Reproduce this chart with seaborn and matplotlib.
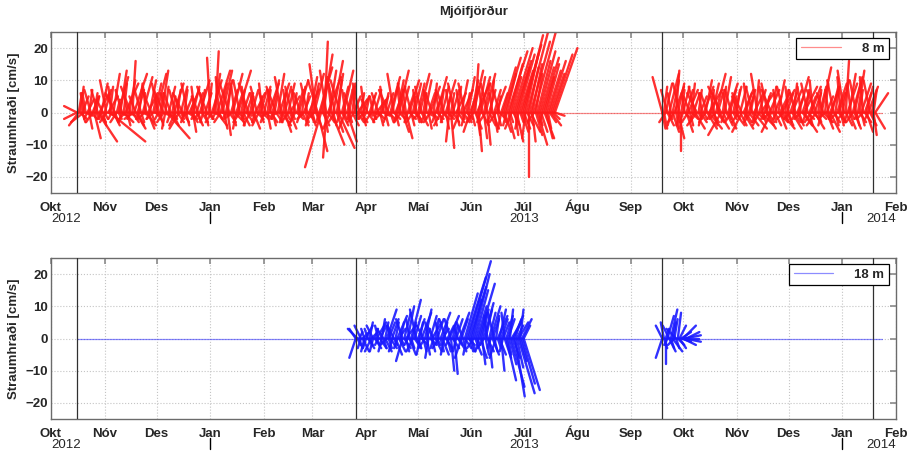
import numpy as np
import pandas as pd
import matplotlib
matplotlib.use("Agg")
import matplotlib.pyplot as plt
import matplotlib.dates as mdates
import matplotlib.transforms as mtransforms
import seaborn as sns

sns.set_theme(style="white")
plt.rcParams["font.family"] = ["Liberation Sans", "DejaVu Sans"]

# ---------------------------------------------------------------------------
# Daily current vectors in cm/s (v = north, u = east).
# "hi" = strongest northward stick of the day, "lo" = strongest southward one.
# ---------------------------------------------------------------------------

# ---- 8 m, deployment 1 (from 2012-10-16) ----
start_8m_a = "2012-10-16"
v_8m_a_hi = (
    [2, 6, 8, 5, 6, 6, 4, 7, 7, 5, 6, 5, 7, 6, 9, 4]
    + [7, 10, 5, 8, 8, 12, 6, 4, 11, 13, 7, 9, 9, 6, 10, 8, 16, 12, 5, 7,
       9, 7, 11, 6, 8, 6, 10, 7, 5, 9]
    + [12, 9, 6, 13, 7, 8, 6, 8, 6, 5, 9, 7, 7, 4, 8, 6, 7, 5, 9, 7,
       4, 8, 8, 6, 5, 10, 7, 6, 6, 8, 9]
    + [17, 10, 12, 19, 13, 11, 9, 13, 8, 10, 9, 9, 7, 12, 8, 6, 13, 10, 7, 6,
       8, 6, 9, 5, 7, 6, 6, 8, 5, 7, 9]
    + [8, 6, 7, 9, 7, 10, 5, 8, 12, 9, 11, 6, 8, 7, 9, 5, 8, 6, 7, 7,
       10, 6, 8, 5, 6, 9, 7, 11]
    + [9, 12, 15, 10, 14, 11, 18, 22, 13, 11, 13, 9, 16, 9, 12, 10, 10, 8, 13, 7,
       8, 9, 6, 8, 5, 7, 4, 9, 6, 5, 8]
    + [5, 4, 6, 5, 5, 7, 4, 6, 3, 5, 8, 6, 6, 7, 11, 9, 12, 8, 10, 13,
       7, 8, 9, 7, 6, 10, 8, 5, 9, 7]
    + [9, 12, 8, 6, 10, 7, 6, 8, 6, 9, 5, 11, 7, 7, 8, 6, 10, 5, 7, 6,
       7, 9, 6, 8, 7, 10, 7, 9, 6, 11, 8]
    + [10, 13, 15, 9, 11, 11, 8, 9, 12, 9, 7, 10, 6, 7, 8, 5, 7, 6, 14, 17,
       12, 19, 15, 11, 20, 16, 14, 18, 13, 21]
    + [24, 18, 27, 14, 22, 15, 26, 12, 16, 19, 14, 17, 11, 15, 13, 16, 12, 18, 20]
)
u_8m_a_hi = (
    [-4, 1, 1, 2, -1, -1, 2, 1, -2, 2, 1, 1, -2, 3, 2, -2]
    + [2, -2, 3, 1, -1, 2, -3, 1, 3, 2, -2, 1, 4, -1, 2, -3, 1, 4, -2, 2,
       1, -2, 3, 0, -1, 3, 2, -3, 1, 2]
    + [3, -2, 1, 2, -3, 1, -2, 2, -2, 1, 3, -2, 1, -1, 2, -3, 1, 2, -2, 3,
       1, 2, -1, 2, -2, 3, 1, -1, 2, -3, 1]
    + [-1, 3, 2, 1, 4, -1, 2, 3, -2, 2, 1, -3, 2, 3, -1, 2, 4, -2, 1, 2,
       -1, 2, -3, 1, 2, -1, 3, -2, 1, 2, -1]
    + [2, -2, 1, 3, -1, 2, 1, -3, 2, 3, -2, 1, 2, -1, 2, 3, -2, 1, -1, 2,
       3, -2, 1, 2, 1, -2, 3, 2]
    + [2, 3, -2, -3, 4, 2, 3, 1, -2, 4, 2, -1, 3, -2, 2, 1, -3, 2, 3, -1,
       2, 2, -2, 1, 2, -1, 3, -2, 1, 2, -1]
    + [1, -2, 2, 1, -1, 2, 3, -2, 1, 2, -1, 1, 2, -3, 3, 2, -2, 3, 2, 3,
       -1, 2, -2, -1, 2, 3, -2, 1, 2, -1]
    + [2, 3, -2, 1, 2, -1, 2, 3, -2, 1, 2, 3, -1, 1, 2, -2, 3, 1, -1, 1,
       2, -2, 3, 1, -1, 2, 3, -2, 1, 2, 3]
    + [2, 3, 1, 4, 2, 3, -1, 2, 3, -2, 2, 1, -1, 2, 3, 1, -2, 2, 4, 5,
       3, 6, 4, 3, 6, 5, 4, 5, 4, 6]
    + [6, 4, 7, 3, 6, 3, 7, 2, 4, 5, 4, 5, 3, 4, 4, 5, 4, 6, 7]
)
v_8m_a_lo = (
    [-2, -4, -2, -3, -3, -1, -2, -5, -2, -3, -8, -2, -9, -3, -2, -4]
    + [-2, -3, -1, -9, -2, -4, -3, -3, -2, -1, -3, -3, -2, -4, -1, -2, -3, -2, -5, -4,
       -2, -3, -1, -2, -4, -5, -2, -3, -2, -1]
    + [-3, -2, -4, -1, -3, -5, -8, -2, -3, -4, -2, -4, -3, -5, -2, -3, -3, -4, -2, -1,
       -3, -6, -2, -4, -3, -2, -3, -3, -4, -2, -1]
    + [-2, -3, -1, -2, -4, -2, -3, -1, -5, -2, -7, -3, -2, -4, -3, -5, -2, -3, -4, -4,
       -2, -3, -1, -4, -2, -5, -3, -2, -4, -3, -2]
    + [-3, -2, -5, -1, -3, -4, -2, -3, -1, -2, -4, -3, -6, -2, -3, -5, -2, -3, -4, -2,
       -1, -3, -4, -2, -3, -2, -4, -3]
    + [-4, -2, -5, -12, -3, -17, -4, -6, -14, -3, -5, -10, -4, -3, -6, -11, -3, -4, -2, -5,
       -9, -3, -2, -4, -3, -2, -3, -1, -3, -4, -2]
    + [-2, -3, -1, -3, -2, -1, -3, -2, -4, -2, -1, -4, -3, -2, -3, -1, -2, -4, -3, -2,
       -3, -6, -2, -8, -3, -2, -4, -3, -2, -3]
    + [-3, -2, -4, -2, -3, -1, -5, -3, -2, -4, -3, -2, -3, -4, -2, -3, -5, -2, -9, -11,
       -3, -2, -4, -3, -5, -2, -3, -4, -2, -3, -6]
    + [-4, -3, -5, -7, -12, -3, -4, -8, -3, -10, -4, -3, -5, -6, -3, -4, -2, -5, -3, -6,
       -4, -8, -3, -5, -4, -7, -9, -5, -3, -6]
    + [-5, -8, -4, -20, -6, -9, -3, -7, -10, -4, -6, -3, -8, -8, -5, -3, -4, -2, -1]
)
u_8m_a_lo = (
    [-4, -3, 2, 1, -4, 2, -1, 1, 2, -2, 2, 1, 6, 2, -1, 1]
    + [1, -2, 2, 11, -1, 2, 1, -2, 1, 2, -1, 3, -2, 1, 2, -1, 2, -3, 3, 2,
       -1, 1, 2, -2, 3, 2, -1, 1, -2, 2]
    + [2, -1, 1, 3, -2, -1, 7, 2, -1, 2, 1, -2, 2, -3, 1, 2, -1, 1, 3, -2,
       2, 1, -1, 2, 1, -2, 2, -1, 1, 2, -1]
    + [1, -2, 2, -1, 3, 1, -2, 2, 1, -1, 1, 2, -2, 1, 3, -1, 2, -2, 1, 2,
       -1, 2, 1, -2, 1, 2, -1, 2, -2, 1, 2]
    + [-1, 2, 1, -2, 2, 1, -1, 2, -2, 1, 3, -1, 2, 1, -2, 2, 1, -1, -2, 2,
       1, -1, 2, -2, 1, 2, -1, 1]
    + [1, -2, 2, 3, -1, -5, 2, 1, -1, 2, -2, 4, 1, -2, 2, 5, -1, 2, 1, -2,
       3, 1, -1, 2, -2, 1, 2, -1, 2, 1, -2]
    + [-1, 2, 1, -2, 1, 2, -1, 2, 1, -2, 2, 1, -1, 2, 1, -2, 2, 1, -1, 2,
       -2, 2, 1, 2, -1, 2, 1, -2, 2, 1]
    + [1, -2, 2, 1, -1, 2, 1, -2, 2, 1, -1, 2, 1, -2, 2, -1, 1, 2, -1, 1,
       2, -1, 1, 2, -2, 1, 2, -1, 2, 1, -2]
    + [1, -2, 2, 1, 1, -1, 2, 1, -2, 1, 2, -1, 2, 1, -2, 1, 2, -1, 1, 2,
       -1, 2, 1, -2, 2, 1, 2, -1, 1, 2]
    + [2, -1, 2, 0, 3, 1, -2, 2, 3, 1, 2, -1, 3, 2, 1, 2, 3, 2, 3]
)

# ---- 8 m, deployment 2 (from 2013-09-19) ----
start_8m_b = "2013-09-19"
v_8m_b_hi = (
    [11, 8, 9, 7, 12, 6, 10, 8, 13, 9, 9, 7]
    + [8, 6, 7, 7, 5, 9, 6, 8, 6, 7, 5, 6, 8, 10, 6, 7, 7, 9, 5, 12,
       7, 6, 8, 8, 11, 6, 9, 7, 7, 5, 8]
    + [7, 5, 8, 6, 7, 6, 9, 7, 5, 8, 6, 10, 12, 7, 6, 8, 6, 5, 9, 7,
       7, 8, 5, 7, 10, 6, 7, 8, 7, 6]
    + [8, 6, 7, 9, 7, 5, 11, 8, 6, 8, 7, 9, 5, 8, 10, 6, 7, 7, 8, 14,
       6, 9, 5, 7, 8, 8, 10, 7, 9, 6, 11]
    + [10, 13, 16, 9, 12, 8, 11, 9, 10, 13, 7, 9, 11, 6, 8, 8, 10, 5, 7, 6]
)
u_8m_b_hi = (
    [-3, 1, 2, -2, 3, -1, 2, 3, 1, 2, -2, 1]
    + [2, -1, 2, 3, -2, 1, 2, -2, -3, 1, 2, -1, 3, 2, -2, 4, 1, 2, -1, 3,
       2, -2, -4, 1, 2, -1, 3, 2, -2, 1, 2]
    + [1, -2, 2, -3, 3, 2, -1, 2, 1, -2, 3, 1, -2, 2, 4, -1, 2, 1, -2, 3,
       -3, 1, 2, -1, 2, 3, 4, -2, 1, 2]
    + [-1, 2, 3, 1, -2, 2, 3, -1, 2, 4, 1, -2, 2, 3, -1, 2, -3, 1, 2, 3,
       -2, 1, 2, -1, 3, 2, -2, 1, 3, 2, -1]
    + [2, -2, 1, 3, 2, -1, 3, 2, -2, 2, 1, 3, -1, 2, 2, 3, -2, 1, 1, 4]
)
v_8m_b_lo = (
    [-5, -5, -3, -4, -2, -4, -6, -3, -5, -8, -4, -12]
    + [-3, -2, -6, -3, -4, -2, -3, -5, -4, -2, -3, -4, -2, -3, -5, -5, -2, -3, -4, -2,
       -3, -5, -7, -2, -3, -4, -2, -5, -3, -2, -4]
    + [-2, -3, -4, -6, -5, -3, -2, -4, -3, -2, -5, -3, -2, -4, -4, -3, -2, -5, -3, -2,
       -6, -3, -4, -2, -3, -5, -5, -2, -3, -4]
    + [-3, -2, -5, -3, -2, -4, -3, -2, -4, -6, -3, -2, -4, -3, -2, -5, -4, -3, -2, -4,
       -3, -2, -5, -3, -6, -2, -3, -4, -2, -3, -4]
    + [-3, -2, -4, -3, -5, -2, -3, -5, -4, -2, -3, -4, -2, -3, -6, -2, -4, -3, -7, -5]
)
u_8m_b_lo = (
    [1, 1, -2, 2, 1, -1, 2, -2, 1, 2, -1, 0]
    + [-1, 2, 2, -2, 1, 2, -1, 3, -3, 1, 2, -1, 1, -2, 3, 4, -1, 2, 1, -2,
       2, 3, -4, 1, -1, 2, 1, 2, -2, 1, 3]
    + [1, -2, 2, -3, 3, 2, -1, 3, -2, 1, 4, -1, 2, -2, 4, 1, -1, 3, 2, -2,
       -3, 1, 2, -1, 3, 2, 4, -2, 1, 2]
    + [1, -2, 3, 2, -1, 2, 1, -2, 3, 4, -1, 2, 1, -2, 2, 3, -3, 1, 2, -1,
       3, -2, 2, 1, 3, -1, 2, 1, -2, 2, 1]
    + [1, -2, 2, -1, 2, 1, -2, 2, 1, -1, 2, 1, -2, 2, 2, -1, 2, 1, 1, 3]
)

# ---- 18 m, deployment 1 (from 2013-03-26) ----
start_18m_a = "2013-03-26"
v_18m_a_hi = (
    [3, 3, 2, 4, 2, 3]
    + [4, 3, 5, 2, 4, 3, 5, 4, 4, 6, 3, 5, 9, 5, 4, 6, 4, 5, 7, 3,
       5, 6, 8, 4, 10, 6, 12, 5, 7, 9]
    + [6, 5, 8, 4, 9, 3, 5, 7, 5, 4, 6, 6, 5, 8, 3, 5, 6, 4, 7, 6,
       5, 4, 6, 3, 8, 6, 5, 14, 19, 24, 16]
    + [12, 20, 15, 10, 17, 8, 9, 11, 9, 7, 8, 10, 6, 8, 7, 7, 9, 6, 5, 8,
       7, 6, 9, 5, 7, 6, 4, 5, 9, 6]
    + [4]
)
u_18m_a_hi = (
    [-2, -3, 1, -2, 2, -1]
    + [2, -1, 1, 2, -2, 1, 3, -1, 2, 1, -2, 1, 3, 2, -1, 2, -2, 1, 3, 2,
       1, -2, 2, 3, 2, -1, 3, 1, 2, -2]
    + [2, 1, 3, -2, 2, 1, -1, 2, 3, -2, 1, 2, -1, 3, 2, 1, -2, 2, 3, -2,
       1, 1, 2, -1, 3, 2, -2, 4, 6, 7, 5]
    + [3, 5, 4, 3, 5, 2, 2, 3, 2, -1, 2, 3, 2, -2, 1, 3, 2, 2, 2, -1,
       2, 2, 1, 3, 3, 2, 2, 3, 1, 3]
    + [2]
)
v_18m_a_lo = (
    [-6, -2, -3, -3, -4, -4]
    + [-3, -3, -2, -4, -4, -3, -2, -2, -3, -4, -3, -4, -2, -3, -3, -4, -2, -5, -3, -4,
       -2, -7, -3, -4, -2, -5, -3, -4, -3, -2]
    + [-3, -5, -2, -4, -3, -5, -6, -2, -4, -3, -4, -2, -3, -4, -5, -5, -3, -4, -2, -10,
       -3, -11, -4, -3, -2, -6, -4, -3, -5, -2, -4]
    + [-4, -3, -5, -2, -4, -6, -8, -3, -5, -4, -9, -3, -5, -4, -6, -3, -5, -10, -4, -6,
       -13, -5, -8, -15, -6, -18, -9, -17, -7, -14]
    + [-16]
)
u_18m_a_lo = (
    [-2, 1, 1, -1, 2, -1]
    + [-1, 2, 1, -2, -1, 2, 1, -1, 2, -1, 1, 2, -2, 1, 2, -1, 1, 2, -1, 2,
       1, -2, 2, 1, -1, 2, 1, -2, 2, 1]
    + [1, -1, 2, 1, -2, 1, -1, 2, 1, -1, 2, 1, -2, 1, 2, -1, 2, 1, -1, 1,
       2, 1, -1, 2, 1, -2, 1, 2, -1, 2, 1]
    + [1, -2, 2, 1, -1, 2, 1, -2, 1, 2, 1, -1, 2, 1, -2, 1, 2, 1, -1, 2,
       3, 1, 2, 4, 2, 3, 2, 5, 2, 4]
    + [5]
)

# ---- 18 m, deployment 2 (from 2013-09-19) ----
start_18m_b = "2013-09-19"
v_18m_b_hi = [4, 5, 3, 7, 4, 9, 5, 6, 3, 8, 4, 2, 4, 1, 2]
u_18m_b_hi = [-2, -1, 1, 2, -2, 2, 1, 1, -3, 1, 2, 3, 4, 5, 4]
v_18m_b_lo = [-6, -3, -8, -2, -4, -3, -4, -2, -3, -2, -3, -1, -2, -1, 0]
u_18m_b_lo = [-2, 1, 0, -1, 2, 1, 3, -2, 1, 2, 2, 3, 4, 5, 4]

# Record span (zero line) and mooring service dates
record_start = "2012-10-16"
record_end = "2014-01-24"
service_dates = ["2012-10-16", "2013-03-26", "2013-09-19", "2014-01-19"]

month_names = ["Jan", "Feb", "Mar", "Apr", "Maí", "Jún", "Júl", "Águ",
               "Sep", "Okt", "Nóv", "Des"]
year_labels = [("2012", "2012-10-01", "left"),
               ("2013", "2013-07-01", "center"),
               ("2014", "2014-02-01", "right")]
year_marks = ["2013-01-01", "2014-01-01"]

x_start, x_end = "2012-10-01", "2014-02-01"
y_lim = (-25, 25)
y_ticks = [-20, -10, 0, 10, 20]

# ---------------------------------------------------------------------------
W, H, DPI = 9.1, 4.51, 100
fig = plt.figure(figsize=(W, H), dpi=DPI)
left, right = 51 / 910, 896 / 910
ax_top = fig.add_axes([left, 1 - 193 / 451, right - left, 161 / 451])
ax_bot = fig.add_axes([left, 1 - 419 / 451, right - left, 161 / 451])

x0 = mdates.date2num(pd.Timestamp(x_start))
x1 = mdates.date2num(pd.Timestamp(x_end))
ax_w_px = (right - left) * W * DPI
ax_h_px = 161
# days per cm/s so the sticks keep their true direction on screen
stick_scale = (ax_h_px / (y_lim[1] - y_lim[0])) * ((x1 - x0) / ax_w_px)


def draw_sticks(ax, start, v, u, color):
    assert len(v) == len(u)
    dates = pd.date_range(start, periods=len(v), freq="D")
    t0 = mdates.date2num(dates)
    tip = t0 + np.asarray(u, float) * stick_scale
    n = len(t0)
    df = pd.DataFrame({
        "t": np.concatenate([t0, tip]),
        "v": np.concatenate([np.zeros(n), np.asarray(v, float)]),
        "stick": np.tile(np.arange(n), 2),
    })
    sns.lineplot(data=df, x="t", y="v", units="stick", estimator=None,
                 sort=False, ax=ax, color=color, lw=1.7, alpha=0.9,
                 legend=False)


def draw_baseline(ax, color, label):
    df = pd.DataFrame({
        "t": mdates.date2num(pd.to_datetime([record_start, record_end])),
        "v": [0.0, 0.0],
    })
    sns.lineplot(data=df, x="t", y="v", ax=ax, color=color, lw=0.9,
                 alpha=0.45, label=label)


def style_axes(ax):
    ax.set_xlim(x0, x1)
    ax.set_ylim(*y_lim)
    ax.set_yticks(y_ticks)
    ax.xaxis.set_major_locator(mdates.MonthLocator())
    ax.xaxis.set_major_formatter(plt.FuncFormatter(
        lambda x, pos: month_names[mdates.num2date(x).month - 1]))
    ax.grid(True, ls=":", color="#c4c4c4", lw=0.8)
    ax.tick_params(direction="in", top=True, right=True, length=4,
                   width=1.2, color="#8a8a8a", labelsize=9.5)
    ax.tick_params(axis="x", pad=13)
    ax.tick_params(axis="y", pad=2)
    for lab in ax.get_xticklabels():
        lab.set_fontweight("bold")
        lab.set_verticalalignment("baseline")
    for lab in ax.get_yticklabels():
        lab.set_fontweight("bold")
    for sp in ax.spines.values():
        sp.set_color("#6b6b6b")
        sp.set_linewidth(1.0)
    ax.set_xlabel("")
    ax.set_ylabel("Straumhraði [cm/s]", fontsize=9.5, fontweight="bold",
                  va="center")
    ax.yaxis.set_label_coords((14 - 51) / ax_w_px, 0.5)

    for d in service_dates:
        ax.axvline(mdates.date2num(pd.Timestamp(d)), color="#303030",
                   lw=0.9, zorder=3)

    trans = mtransforms.blended_transform_factory(ax.transData, ax.transAxes)
    for text, d, ha in year_labels:
        ax.text(mdates.date2num(pd.Timestamp(d)), -25.5 / ax_h_px, text,
                transform=trans, ha=ha, va="center", fontsize=9.5,
                clip_on=False)
    for d in year_marks:
        xd = mdates.date2num(pd.Timestamp(d))
        ax.plot([xd, xd], [-19 / ax_h_px, -30 / ax_h_px], transform=trans,
                color="black", lw=1.0, clip_on=False)

    leg = ax.legend(loc="upper right",
                    bbox_to_anchor=(1 - 7 / ax_w_px, 1 - 6 / ax_h_px),
                    borderaxespad=0, fancybox=False, framealpha=1,
                    edgecolor="black", handlelength=3.0, handletextpad=1.6,
                    borderpad=0.35,
                    prop={"weight": "bold", "size": 9.5})
    leg.get_frame().set_linewidth(0.9)


draw_baseline(ax_top, "#ff0000", "8 m")
for v, u in [(v_8m_a_hi, u_8m_a_hi), (v_8m_a_lo, u_8m_a_lo)]:
    draw_sticks(ax_top, start_8m_a, v, u, "#ff1a1a")
for v, u in [(v_8m_b_hi, u_8m_b_hi), (v_8m_b_lo, u_8m_b_lo)]:
    draw_sticks(ax_top, start_8m_b, v, u, "#ff1a1a")
style_axes(ax_top)

draw_baseline(ax_bot, "#0000ff", "18 m")
for v, u in [(v_18m_a_hi, u_18m_a_hi), (v_18m_a_lo, u_18m_a_lo)]:
    draw_sticks(ax_bot, start_18m_a, v, u, "#1a1aff")
for v, u in [(v_18m_b_hi, u_18m_b_hi), (v_18m_b_lo, u_18m_b_lo)]:
    draw_sticks(ax_bot, start_18m_b, v, u, "#1a1aff")
style_axes(ax_bot)

fig.text((51 + 896) / 2 / 910, 1 - 12 / 451, "Mjóifjörður", ha="center",
         va="center", fontsize=9.5, fontweight="bold")

fig.savefig("out.png", dpi=DPI)
